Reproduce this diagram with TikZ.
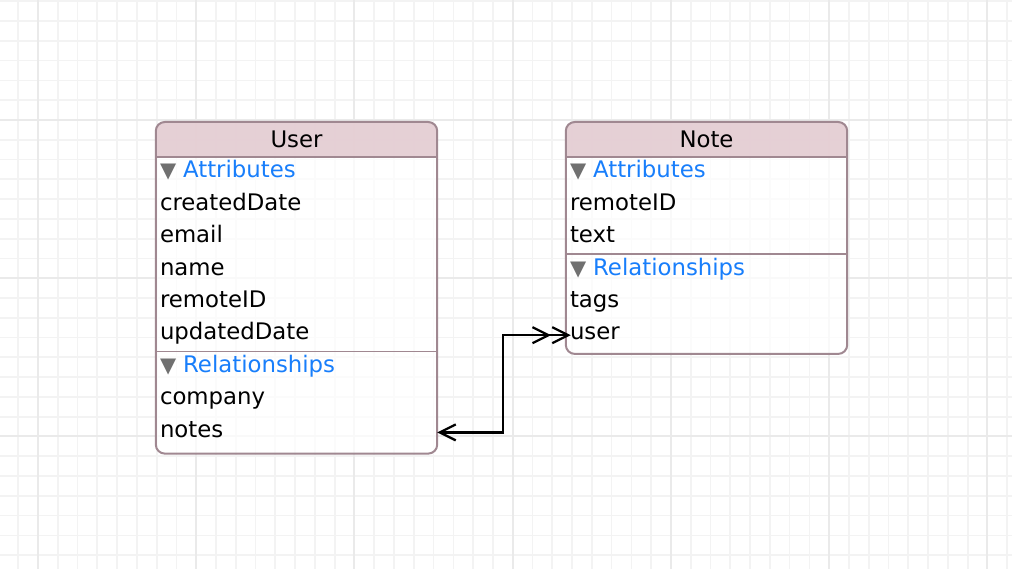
\documentclass[tikz,border=0pt]{standalone}
\usepackage{fontspec}
\setmainfont{DejaVu Sans}
\usepackage{xcolor}
\usetikzlibrary{positioning, backgrounds, arrows.meta}

\definecolor{gridminor}{RGB}{243,243,243}
\definecolor{gridmajor}{RGB}{234,234,234}
\definecolor{framecol}{RGB}{160,136,145}
\definecolor{headcol}{RGB}{227,203,209}
\definecolor{attrblue}{RGB}{24,126,251}
\definecolor{trigray}{RGB}{112,112,112}

\newcommand{\entfont}{\fontsize{22.8}{27}\selectfont}
\newcommand{\trifont}{\fontsize{21}{21}\selectfont}
\newcommand{\grouptitle}[1]{{\trifont\textcolor{trigray}{▼}}\hspace{7pt}#1}

\begin{document}
\begin{tikzpicture}[
    x=1pt, y=-1pt,
    node distance=0pt,
    head/.style={anchor=north, text width=273pt, inner xsep=4pt, inner ysep=0pt, text height=25pt, text depth=9.6pt, align=center, font=\entfont},
    row/.style={text width=273pt, inner xsep=4pt, inner ysep=0pt, text height=20.7pt, text depth=11.3pt, align=left, font=\entfont},
    grouprow/.style={row, text=attrblue},
    bodyfill/.style={fill=white, fill opacity=0.75, rounded corners=9pt},
    headfill/.style={fill=headcol, fill opacity=0.9},
    frame/.style={draw=framecol, line width=2pt, rounded corners=9pt},
    sepline/.style={draw=framecol, line width=1.8pt},
    minorline/.style={draw=gridminor, line width=1.7pt},
    majorline/.style={draw=gridmajor, line width=1.9pt},
    rel/.style={arrows={{Straight Barb[length=16pt,width=16pt,sep={-5pt}]Straight Barb[length=16pt,width=16pt]}-{Straight Barb[length=16pt,width=16pt]}}, line width=2.3pt}
]
\useasboundingbox (0,0) rectangle (1012,569);

% User entity
\node[head] (user) at (296.5,122) {User};
\node[grouprow, below=of user] (user-attr) {\grouptitle{Attributes}};
\node[row, below=of user-attr] (user-created) {createdDate};
\node[row, below=of user-created] (user-email) {email};
\node[row, below=of user-email] (user-name) {name};
\node[row, below=of user-name] (user-remote) {remoteID};
\node[row, below=of user-remote] (user-updated) {updatedDate};
\node[grouprow, below=of user-updated] (user-rel) {\grouptitle{Relationships}};
\node[row, below=of user-rel] (user-company) {company};
\node[row, below=of user-company] (user-notes) {notes};
\coordinate (user-se) at ([yshift=-5pt]user-notes.south east);

% Note entity
\node[head] (note) at (706.5,122) {Note};
\node[grouprow, below=of note] (note-attr) {\grouptitle{Attributes}};
\node[row, below=of note-attr] (note-remote) {remoteID};
\node[row, below=of note-remote] (note-text) {text};
\node[grouprow, below=of note-text] (note-rel) {\grouptitle{Relationships}};
\node[row, below=of note-rel] (note-tags) {tags};
\node[row, below=of note-tags] (note-user) {user};
\coordinate (note-se) at ([yshift=-2.5pt]note-user.south east);

\begin{scope}[on background layer]
    \fill[white] (0,0) rectangle (1012,569);
    % grid
    \foreach \k in {0,...,50} \draw[minorline] ({18.2+19.78*\k},0) -- ({18.2+19.78*\k},569);
    \foreach \k in {0,...,28} \draw[minorline] (0,{1.3+19.78*\k}) -- (1012,{1.3+19.78*\k});
    \foreach \k in {0,...,6} \draw[majorline] ({38+158.2*\k},0) -- ({38+158.2*\k},569);
    \foreach \v in {120,278.2,436.4} \draw[majorline] (0,\v) -- (1012,\v);
    % box bodies
    \fill[bodyfill] (user.north west) rectangle (user-se);
    \fill[bodyfill] (note.north west) rectangle (note-se);
    \begin{scope}
        \clip[rounded corners=9pt] (user.north west) rectangle (user-se);
        \fill[headfill] (user.north west) rectangle (user.south east);
    \end{scope}
    \begin{scope}
        \clip[rounded corners=9pt] (note.north west) rectangle (note-se);
        \fill[headfill] (note.north west) rectangle (note.south east);
    \end{scope}
\end{scope}

\draw[frame] (user.north west) rectangle (user-se);
\draw[frame] (note.north west) rectangle (note-se);
\draw[sepline] (user.south west) -- (user.south east);
\draw[sepline] (user-updated.south west) -- (user-updated.south east);
\draw[sepline] (note.south west) -- (note.south east);
\draw[sepline] (note-text.south west) -- (note-text.south east);

% relationship user <-> notes
\draw[rel] (note-user.west) -- ++(-63,0) |- (user-notes.east);
\end{tikzpicture}
\end{document}
